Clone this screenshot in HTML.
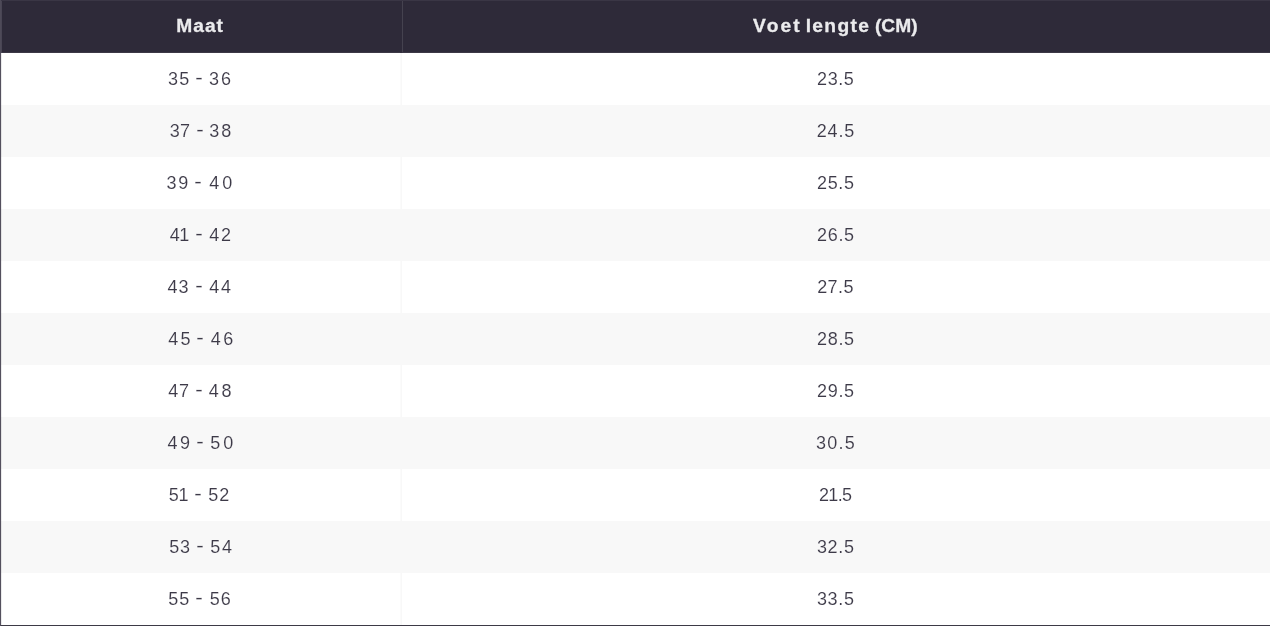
<!DOCTYPE html>
<html lang="nl">
<head>
<meta charset="utf-8">
<title>Maattabel</title>
<style>
html,body{margin:0;padding:0;background:#fff;}
body{width:1270px;height:626px;overflow:hidden;position:relative;font-family:"Liberation Sans",sans-serif;}
table{position:absolute;left:0;top:0;width:1270px;height:626px;border-collapse:separate;border-spacing:0;table-layout:fixed;}
th,td{box-sizing:border-box;padding:0;text-align:center;vertical-align:top;white-space:nowrap;overflow:hidden;}
col.c1{width:402px;}
col.c2{width:868px;}
th{height:53px;background:#2e2a39;color:#ebebed;-webkit-text-stroke:0.3px #ebebed;font-weight:bold;font-size:19.2px;line-height:22px;padding-top:15px;}
td{height:52px;color:#3d3a48;-webkit-text-stroke:0.1px #fff;font-size:18px;line-height:22px;padding-top:15px;background:#fff;}
tbody tr:nth-child(even) td{background:#f8f8f8;-webkit-text-stroke-color:#f8f8f8;}
tbody tr:last-child td{height:53px;}
i{position:absolute;display:block;}
.l0{left:0;top:0;width:1px;height:626px;background:#4e4a58;}
.l1{left:1px;top:1px;width:1px;height:52px;background:#494554;}
.l2{left:0;top:53px;width:1px;height:572px;background:#54505e;}
.l3{left:1px;top:53px;width:1px;height:572px;background:rgba(84,80,94,0.12);}
.lt{left:1px;top:0;width:1269px;height:1px;background:#3a3645;}
.lb{left:1px;top:625px;width:1269px;height:1px;background:#3d3a46;}
.ld{left:402px;top:1px;width:1px;height:51px;background:#45424f;}
.lh{left:2px;top:52px;width:1268px;height:1px;background:#3c3846;}
.ls{left:400px;top:52px;width:2px;height:1px;background:#322e3c;}
.lv{left:400px;top:53px;width:2px;height:572px;background:linear-gradient(90deg,#fbfbfb 0,#fbfbfb 1px,#f8f8f8 1px,#f8f8f8 2px);}
.lw{left:400px;top:105px;width:1px;height:52px;background:#f8f8f8;}
th.a{letter-spacing:1.01px;padding-right:1.7px;}
th.b{letter-spacing:0;text-align:left;}
th.b .w1{letter-spacing:2.16px;margin-left:351.11px;}
th.b .w2{letter-spacing:1.33px;margin-left:-1.59px;}
th.b .w3{letter-spacing:0.06px;margin-left:-0.62px;}
td.a{text-align:left;letter-spacing:0;}
td.a span{position:relative;}
td.a span+span{top:-1px;display:inline-block;transform:scaleX(1.25);}
td.a span+span+span{top:0;display:inline;transform:none;}
.r1 .b{letter-spacing:0.58px;padding-right:0.56px;}
.r1 .a span{margin-left:167.93px;letter-spacing:1.27px;}
.r1 .a span+span{margin-left:0.72px;letter-spacing:0;}
.r1 .a span+span+span{margin-left:1.67px;letter-spacing:2px;}
.r2 .b{letter-spacing:0.75px;padding-right:0.22px;}
.r2 .a span{margin-left:169.73px;letter-spacing:0.21px;}
.r2 .a span+span{margin-left:1.32px;letter-spacing:0;}
.r2 .a span+span+span{margin-left:1.66px;letter-spacing:2.01px;}
.r3 .b{letter-spacing:0.67px;padding-right:0.27px;}
.r3 .a span{margin-left:166.47px;letter-spacing:1.77px;}
.r3 .a span+span{margin-left:0.38px;letter-spacing:0;}
.r3 .a span+span+span{margin-left:2.74px;letter-spacing:3px;}
.r4 .b{letter-spacing:0.66px;padding-right:0.1px;}
.r4 .a span{margin-left:169.73px;letter-spacing:-0.4px;}
.r4 .a span+span{margin-left:1.89px;letter-spacing:0;}
.r4 .a span+span+span{margin-left:2.27px;letter-spacing:1.79px;}
.r5 .b{letter-spacing:0.48px;padding-right:0.77px;}
.r5 .a span{margin-left:167.47px;letter-spacing:1.12px;}
.r5 .a span+span{margin-left:1.02px;letter-spacing:0;}
.r5 .a span+span+span{margin-left:2.48px;letter-spacing:1.77px;}
.r6 .b{letter-spacing:0.66px;padding-right:0.19px;}
.r6 .a span{margin-left:168.25px;letter-spacing:2.29px;}
.r6 .a span+span{margin-left:-0.56px;letter-spacing:0;}
.r6 .a span+span+span{margin-left:2.34px;letter-spacing:2.51px;}
.r7 .b{letter-spacing:0.68px;padding-right:0.22px;}
.r7 .a span{margin-left:168.24px;letter-spacing:0.73px;}
.r7 .a span+span{margin-left:1.03px;letter-spacing:0;}
.r7 .a span+span+span{margin-left:1.9px;letter-spacing:2.74px;}
.r8 .b{letter-spacing:1.23px;padding-right:0.2px;}
.r8 .a span{margin-left:167.43px;letter-spacing:2.62px;}
.r8 .a span+span{margin-left:-0.24px;letter-spacing:0;}
.r8 .a span+span+span{margin-left:1.89px;letter-spacing:3px;}
.r9 .b{letter-spacing:-0.72px;padding-right:1.7px;}
.r9 .a span{margin-left:168.82px;letter-spacing:-0.4px;}
.r9 .a span+span{margin-left:2.19px;letter-spacing:0;}
.r9 .a span+span+span{margin-left:2px;letter-spacing:0.92px;}
.r10 .b{letter-spacing:0.65px;padding-right:0.54px;}
.r10 .a span{margin-left:169.22px;letter-spacing:0.88px;}
.r10 .a span+span{margin-left:0.5px;letter-spacing:0;}
.r10 .a span+span+span{margin-left:2.68px;letter-spacing:1.74px;}
.r11 .b{letter-spacing:0.65px;padding-right:0.47px;}
.r11 .a span{margin-left:168.34px;letter-spacing:0.86px;}
.r11 .a span+span{margin-left:1.34px;letter-spacing:0;}
.r11 .a span+span+span{margin-left:2.33px;letter-spacing:1.05px;}
</style>
</head>
<body>
<table>
<colgroup><col class="c1"><col class="c2"></colgroup>
<thead>
<tr><th class="a">Maat</th><th class="b"><span class="w1">Voet</span> <span class="w2">lengte</span> <span class="w3">(CM)</span></th></tr>
</thead>
<tbody>
<tr class="r1"><td class="a"><span>35</span> <span>-</span> <span>36</span></td><td class="b">23.5</td></tr>
<tr class="r2"><td class="a"><span>37</span> <span>-</span> <span>38</span></td><td class="b">24.5</td></tr>
<tr class="r3"><td class="a"><span>39</span> <span>-</span> <span>40</span></td><td class="b">25.5</td></tr>
<tr class="r4"><td class="a"><span>41</span> <span>-</span> <span>42</span></td><td class="b">26.5</td></tr>
<tr class="r5"><td class="a"><span>43</span> <span>-</span> <span>44</span></td><td class="b">27.5</td></tr>
<tr class="r6"><td class="a"><span>45</span> <span>-</span> <span>46</span></td><td class="b">28.5</td></tr>
<tr class="r7"><td class="a"><span>47</span> <span>-</span> <span>48</span></td><td class="b">29.5</td></tr>
<tr class="r8"><td class="a"><span>49</span> <span>-</span> <span>50</span></td><td class="b">30.5</td></tr>
<tr class="r9"><td class="a"><span>51</span> <span>-</span> <span>52</span></td><td class="b">21.5</td></tr>
<tr class="r10"><td class="a"><span>53</span> <span>-</span> <span>54</span></td><td class="b">32.5</td></tr>
<tr class="r11"><td class="a"><span>55</span> <span>-</span> <span>56</span></td><td class="b">33.5</td></tr>
</tbody>
</table>
<i class="lv"></i><i class="lw" style="top:105px"></i><i class="lw" style="top:209px"></i><i class="lw" style="top:313px"></i><i class="lw" style="top:417px"></i><i class="lw" style="top:521px"></i><i class="lt"></i><i class="lb"></i><i class="lh"></i><i class="ls"></i><i class="ld"></i><i class="l1"></i><i class="l0"></i><i class="l2"></i><i class="l3"></i>
</body>
</html>
